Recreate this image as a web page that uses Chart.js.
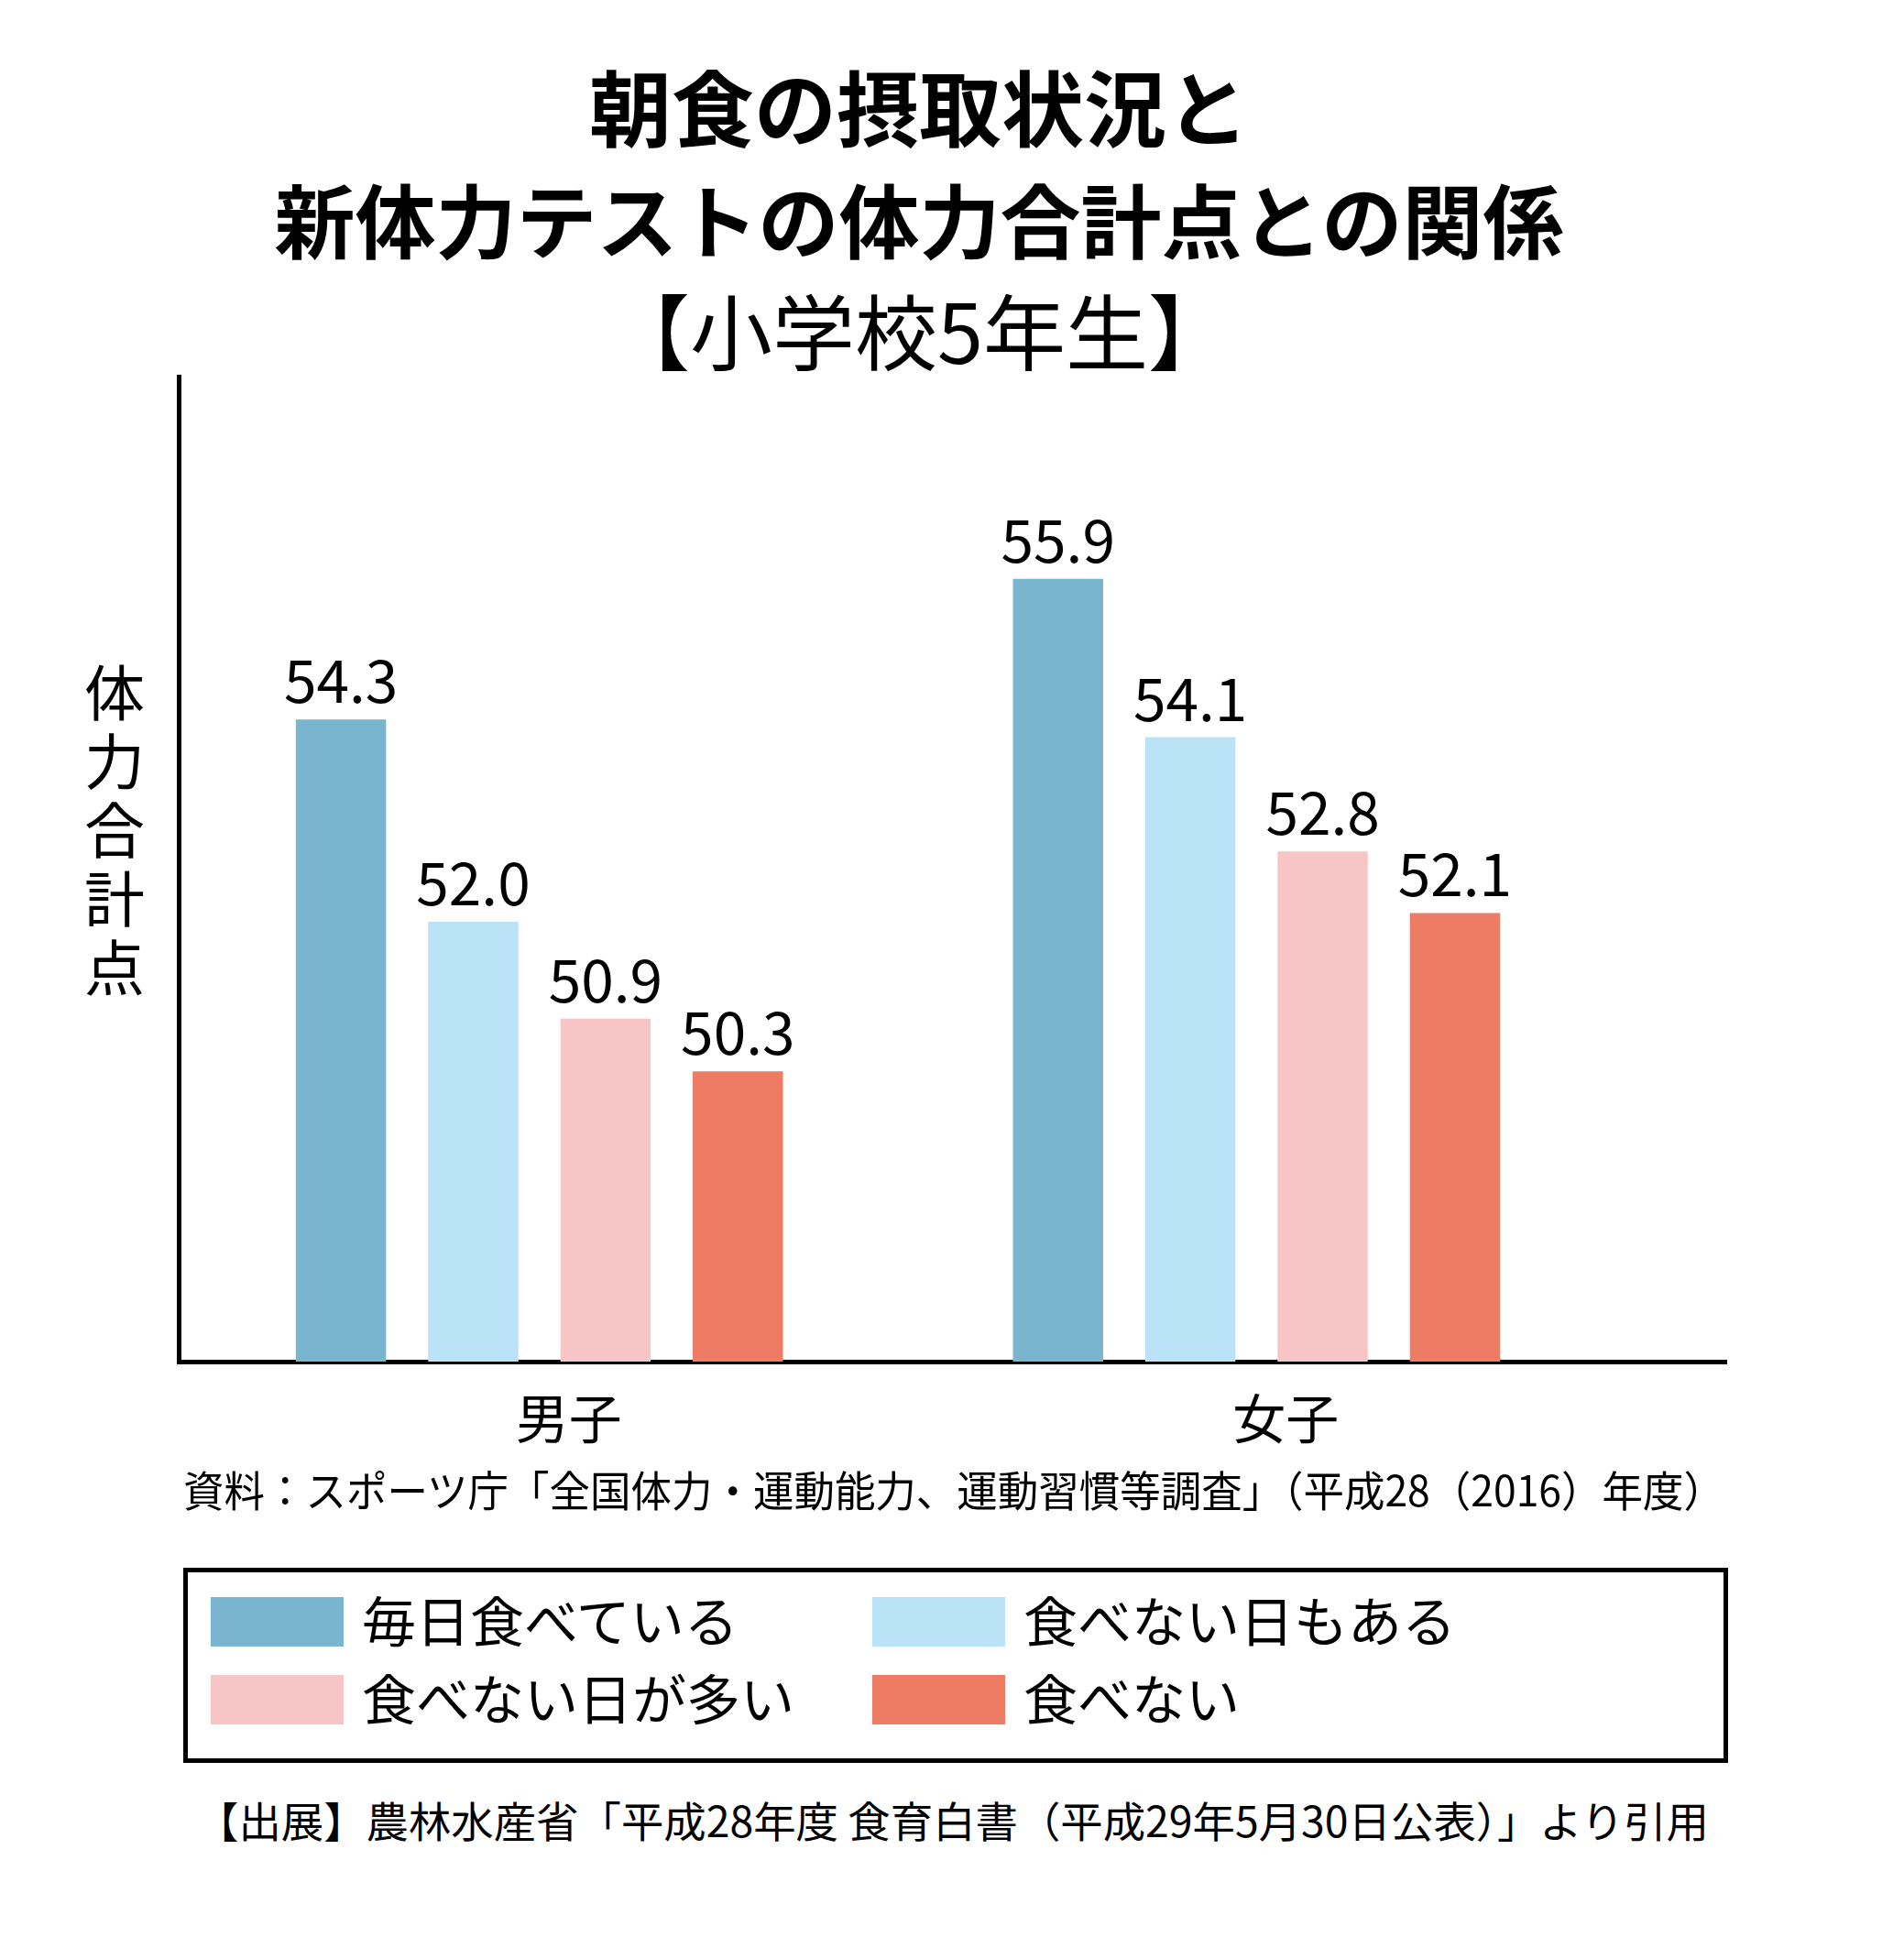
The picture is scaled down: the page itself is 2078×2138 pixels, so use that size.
<!DOCTYPE html>
<html><head><meta charset="utf-8">
<script src="https://cdn.jsdelivr.net/npm/chart.js@4.4.0/dist/chart.umd.min.js"></script>
<style>
html,body{margin:0;padding:0;background:#fff;}
#page{position:relative;width:2078px;height:2138px;background:#fff;overflow:hidden;font-family:"Noto Sans CJK JP","Noto Sans",sans-serif;color:#000;}
#c{position:absolute;left:0;top:0;}
.t{position:absolute;white-space:nowrap;line-height:1;}
#legendBox{position:absolute;left:200px;top:1711px;width:1686px;height:213px;border:5px solid #000;box-sizing:border-box;}
.sw{position:absolute;width:145px;height:54px;}
</style></head><body>
<div id="page">
  <canvas id="c" width="2078" height="1700"></canvas>
  <div id="legendBox"></div>
</div>
<script>
// ---- data ----
const categories = ['男子', '女子'];
const seriesLabels = ['毎日食べている', '食べない日もある', '食べない日が多い', '食べない'];
const everyDay = [54.3, 55.9];
const skipSometimes = [52.0, 54.1];
const skipOften = [50.9, 52.8];
const noBreakfast = [50.3, 52.1];
const seriesColors = ['#79B5CE', '#BBE3F8', '#F7C5C5', '#EE7B64'];
const titleLines = ['朝食の摂取状況と', '新体力テストの体力合計点との関係', '【小学校5年生】'];
const yAxisTitle = '体力合計点';
const sourceNote = '資料：スポーツ庁「全国体力・運動能力、運動習慣等調査」（平成28（2016）年度）';
const footerNote = '【出展】農林水産省「平成28年度 食育白書（平成29年5月30日公表）」より引用';

const FONT = '"Noto Sans CJK JP", "Noto Sans", sans-serif';
const page = document.getElementById('page');

function addText(txt, opts) {
  const d = document.createElement('div');
  d.className = 't';
  d.textContent = txt;
  d.style.fontSize = opts.size + 'px';
  d.style.fontWeight = opts.weight || 400;
  d.style.top = (opts.cy - 0.556 * opts.size) + 'px';
  page.appendChild(d);
  const w = d.getBoundingClientRect().width;
  let scale = 1;
  if (opts.fitWidth) scale = opts.fitWidth / w;
  if (opts.cx !== undefined) {
    d.style.left = (opts.cx - w * scale / 2) + 'px';
  } else {
    d.style.left = opts.left + 'px';
  }
  if (scale !== 1) {
    d.style.transformOrigin = '0 0';
    d.style.transform = 'scaleX(' + scale + ')';
  }
  return d;
}

// title
addText(titleLines[0], {cx: 1003, cy: 119, size: 90, weight: 700});
addText(titleLines[1], {cx: 1003, cy: 242, size: 88, weight: 700});
addText(titleLines[2], {cx: 1003, cy: 363, size: 90, weight: 400});

// y axis title (vertical)
const yt = document.createElement('div');
yt.className = 't';
yt.textContent = yAxisTitle;
yt.style.writingMode = 'vertical-rl';
yt.style.fontSize = '66px';
yt.style.letterSpacing = '9px';
yt.style.left = (125 - 33) + 'px';
yt.style.top = '723px';
page.appendChild(yt);

// notes
addText(sourceNote, {left: 200, cy: 1627, size: 46, fitWidth: 1682});
addText(footerNote, {left: 214, cy: 1988, size: 46, fitWidth: 1651});

// legend (built from series)
seriesLabels.forEach((lab, i) => {
  const col = i % 2, row = Math.floor(i / 2);
  const sx = col === 0 ? 230 : 952;
  const sy = row === 0 ? 1743 : 1828;
  const s = document.createElement('div');
  s.className = 'sw';
  s.style.left = sx + 'px';
  s.style.top = sy + 'px';
  s.style.background = seriesColors[i];
  page.appendChild(s);
  addText(lab, {left: sx + 165, cy: sy + 27, size: 59});
});

// ---- chart ----
const seriesValues = [everyDay, skipSometimes, skipOften, noBreakfast];
const datasets = seriesValues.map((vals, i) => ({
  label: seriesLabels[i],
  data: vals.map((v, k) => ({x: k, y: v})),
  backgroundColor: seriesColors[i],
  borderWidth: 0,
  categoryPercentage: 0.738,
  barPercentage: 0.682
}));

const valueLabels = {
  id: 'valueLabels',
  afterDatasetsDraw(chart) {
    const ctx = chart.ctx;
    ctx.save();
    ctx.font = '64px ' + FONT;
    ctx.fillStyle = '#000';
    ctx.textAlign = 'center';
    ctx.textBaseline = 'alphabetic';
    chart.data.datasets.forEach((ds, di) => {
      chart.getDatasetMeta(di).data.forEach((el, k) => {
        ctx.fillText(ds.data[k].y.toFixed(1), el.x, el.y - 18);
      });
    });
    ctx.restore();
  }
};

new Chart(document.getElementById('c'), {
  type: 'bar',
  data: {datasets},
  plugins: [valueLabels],
  options: {
    responsive: false,
    animation: false,
    devicePixelRatio: 1,
    layout: {padding: {left: 195, right: 194, top: 411, bottom: 0}},
    plugins: {legend: {display: false}, tooltip: {enabled: false}},
    scales: {
      x: {
        type: 'linear',
        min: -0.503,
        max: 1.655,
        offset: false,
        grid: {display: false},
        border: {display: true, color: '#000', width: 5},
        ticks: {
          stepSize: 1,
          includeBounds: false,
          autoSkip: false,
          maxRotation: 0,
          padding: 19,
          labelOffset: 32,
          color: '#000',
          font: {family: FONT, size: 58},
          callback: (v) => (categories[v] !== undefined ? categories[v] : '')
        },
        afterFit: (s) => { s.height = 214; }
      },
      y: {
        min: 47,
        max: 58.2,
        grid: {display: false},
        border: {display: true, color: '#000', width: 5},
        ticks: {display: false},
        afterFit: (s) => { s.width = 0; }
      }
    }
  }
});
</script>
</body></html>
